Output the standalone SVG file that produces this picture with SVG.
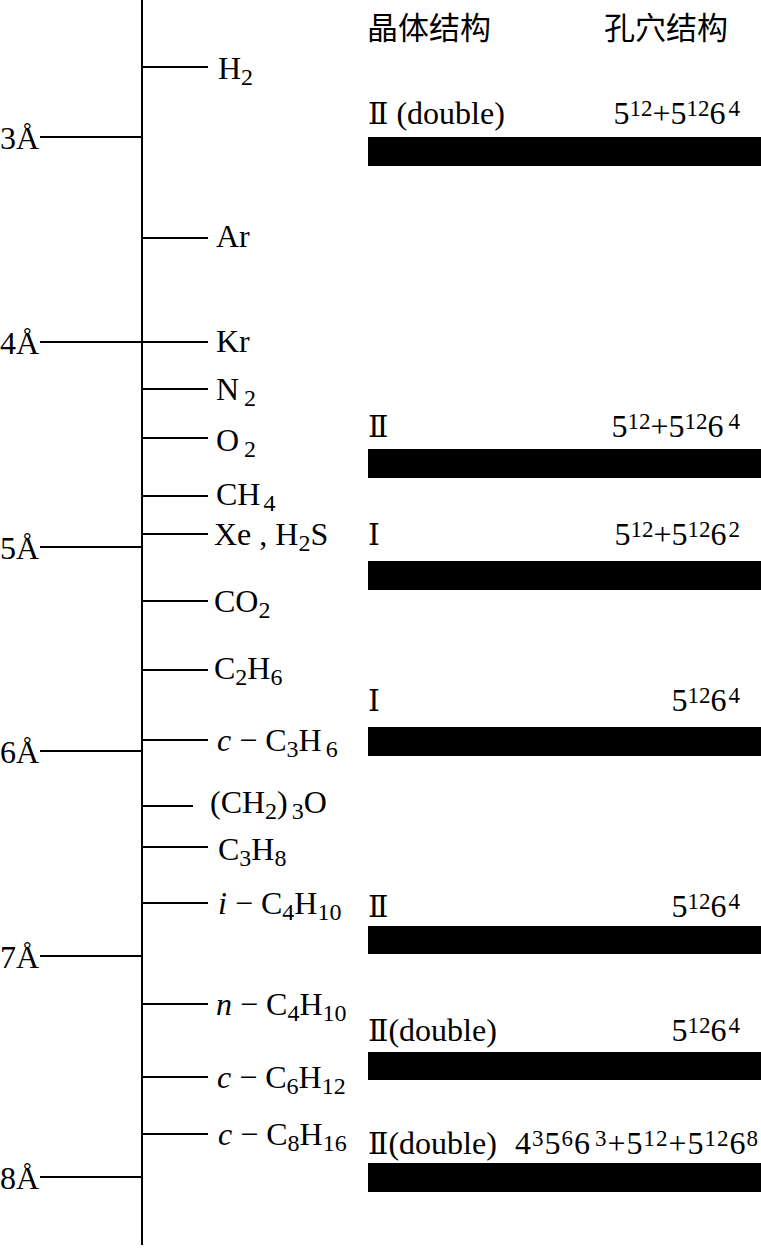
<svg xmlns="http://www.w3.org/2000/svg" width="761" height="1257" viewBox="0 0 761 1257">
<style>
.t{font-family:"Liberation Serif","Times New Roman","DejaVu Serif","Noto Sans CJK SC",serif;font-size:32px;fill:#000}
.i{font-style:italic}
.s{font-size:24px}
.p{font-size:23px}
.r{font-family:"DejaVu Serif","Liberation Serif","Noto Sans CJK SC",serif;font-size:30px}
.cjk{font-family:"Noto Sans CJK SC",sans-serif;font-size:31px;fill:#000}
.ln{stroke:#000;stroke-width:2;fill:none}
.bar{fill:#000}
</style>
<rect width="761" height="1257" fill="#fff"/>
<g id="connectors">
<line class="ln" x1="142" y1="0" x2="142" y2="1245"/>
<line class="ln" x1="40" y1="137" x2="142" y2="137"/>
<line class="ln" x1="40" y1="342" x2="208" y2="342"/>
<line class="ln" x1="40" y1="547" x2="142" y2="547"/>
<line class="ln" x1="40" y1="751" x2="142" y2="751"/>
<line class="ln" x1="40" y1="956" x2="142" y2="956"/>
<line class="ln" x1="40" y1="1177" x2="142" y2="1177"/>
<line class="ln" x1="142" y1="67" x2="208" y2="67"/>
<line class="ln" x1="142" y1="238" x2="208" y2="238"/>
<line class="ln" x1="142" y1="389" x2="208" y2="389"/>
<line class="ln" x1="142" y1="438" x2="208" y2="438"/>
<line class="ln" x1="142" y1="496" x2="208" y2="496"/>
<line class="ln" x1="142" y1="534" x2="208" y2="534"/>
<line class="ln" x1="142" y1="601" x2="208" y2="601"/>
<line class="ln" x1="142" y1="670" x2="208" y2="670"/>
<line class="ln" x1="142" y1="740" x2="208" y2="740"/>
<line class="ln" x1="142" y1="806" x2="193" y2="806"/>
<line class="ln" x1="142" y1="847" x2="208" y2="847"/>
<line class="ln" x1="142" y1="903" x2="208" y2="903"/>
<line class="ln" x1="142" y1="1004" x2="208" y2="1004"/>
<line class="ln" x1="142" y1="1077" x2="208" y2="1077"/>
<line class="ln" x1="142" y1="1134" x2="208" y2="1134"/>
</g>
<g id="scale">
<text class="t" x="0" y="149">3Å</text>
<text class="t" x="0" y="354">4Å</text>
<text class="t" x="0" y="559">5Å</text>
<text class="t" x="0" y="763">6Å</text>
<text class="t" x="0" y="968">7Å</text>
<text class="t" x="0" y="1189">8Å</text>
</g>
<g id="molecules">
<g id="m-h2"><text class="t" x="218" y="79">H<tspan class="s" dy="6">2</tspan></text></g>
<g id="m-ar"><text class="t" x="216" y="247">Ar</text></g>
<g id="m-kr"><text class="t" x="216" y="352">Kr</text></g>
<g id="m-n2"><text class="t" x="216" y="400">N<tspan class="s" dx="5" dy="6">2</tspan></text></g>
<g id="m-o2"><text class="t" x="216" y="451">O<tspan class="s" dx="5" dy="6">2</tspan></text></g>
<g id="m-ch4"><text class="t" x="216" y="505">CH<tspan class="s" dx="3" dy="6">4</tspan></text></g>
<g id="m-xe"><text class="t" x="214" y="545">Xe , H<tspan class="s" dy="6">2</tspan><tspan dy="-6">S</tspan></text></g>
<g id="m-co2"><text class="t" x="214" y="612">CO<tspan class="s" dy="6">2</tspan></text></g>
<g id="m-c2h6"><text class="t" x="214" y="679">C<tspan class="s" dy="6">2</tspan><tspan dy="-6">H</tspan><tspan class="s" dy="6">6</tspan></text></g>
<g id="m-cc3h6"><text class="t" x="217" y="751"><tspan class="i">c</tspan> − C<tspan class="s" dy="6">3</tspan><tspan dy="-6">H</tspan><tspan class="s" dx="4" dy="6">6</tspan></text></g>
<g id="m-ch23o"><text class="t" x="210" y="813">(CH<tspan class="s" dy="6">2</tspan><tspan dy="-6">)</tspan><tspan class="s" dx="4" dy="6">3</tspan><tspan dy="-6">O</tspan></text></g>
<g id="m-c3h8"><text class="t" x="218" y="860">C<tspan class="s" dy="6">3</tspan><tspan dy="-6">H</tspan><tspan class="s" dy="6">8</tspan></text></g>
<g id="m-ic4h10"><text class="t" x="218" y="914"><tspan class="i">i</tspan> − C<tspan class="s" dy="6">4</tspan><tspan dy="-6">H</tspan><tspan class="s" dy="6">10</tspan></text></g>
<g id="m-nc4h10"><text class="t" x="216" y="1015"><tspan class="i">n</tspan> − C<tspan class="s" dy="6">4</tspan><tspan dy="-6">H</tspan><tspan class="s" dy="6">10</tspan></text></g>
<g id="m-cc6h12"><text class="t" x="217" y="1088"><tspan class="i">c</tspan> − C<tspan class="s" dy="6">6</tspan><tspan dy="-6">H</tspan><tspan class="s" dy="6">12</tspan></text></g>
<g id="m-cc8h16"><text class="t" x="218" y="1145"><tspan class="i">c</tspan> − C<tspan class="s" dy="6">8</tspan><tspan dy="-6">H</tspan><tspan class="s" dy="6">16</tspan></text></g>
</g>
<g id="headers">
<text class="cjk" x="367" y="39">晶体结构</text>
<text class="cjk" x="604" y="39">孔穴结构</text>
</g>
<g id="row1">
<text class="t" x="368" y="124"><tspan class="r">Ⅱ</tspan> (double)</text>
<text class="t" x="740" y="124" text-anchor="end">5<tspan class="p" dy="-8">12</tspan><tspan dy="8">+5</tspan><tspan class="p" dy="-8">12</tspan><tspan dy="8">6</tspan><tspan class="p" dx="3" dy="-8">4</tspan></text>
<rect class="bar" x="368" y="137" width="393" height="29"/>
</g>
<g id="row2">
<text class="t" x="368" y="437"><tspan class="r">Ⅱ</tspan></text>
<text class="t" x="740" y="437" text-anchor="end">5<tspan class="p" dy="-8">12</tspan><tspan dy="8">+5</tspan><tspan class="p" dy="-8">12</tspan><tspan dy="8">6</tspan><tspan class="p" dx="5" dy="-8">4</tspan></text>
<rect class="bar" x="368" y="449" width="393" height="29"/>
</g>
<g id="row3">
<text class="t" x="368" y="545"><tspan class="r">Ⅰ</tspan></text>
<text class="t" x="740" y="545" text-anchor="end">5<tspan class="p" dy="-8">12</tspan><tspan dy="8">+5</tspan><tspan class="p" dy="-8">12</tspan><tspan dy="8">6</tspan><tspan class="p" dx="2" dy="-8">2</tspan></text>
<rect class="bar" x="368" y="561" width="393" height="29"/>
</g>
<g id="row4">
<text class="t" x="368" y="711"><tspan class="r">Ⅰ</tspan></text>
<text class="t" x="740" y="711" text-anchor="end">5<tspan class="p" dy="-8">12</tspan><tspan dy="8">6</tspan><tspan class="p" dx="2" dy="-8">4</tspan></text>
<rect class="bar" x="368" y="727" width="393" height="29"/>
</g>
<g id="row5">
<text class="t" x="368" y="917"><tspan class="r">Ⅱ</tspan></text>
<text class="t" x="740" y="917" text-anchor="end">5<tspan class="p" dy="-8">12</tspan><tspan dy="8">6</tspan><tspan class="p" dx="2" dy="-8">4</tspan></text>
<rect class="bar" x="368" y="926" width="393" height="28"/>
</g>
<g id="row6">
<text class="t" x="368" y="1041"><tspan class="r">Ⅱ</tspan>(double)</text>
<text class="t" x="740" y="1041" text-anchor="end">5<tspan class="p" dy="-8">12</tspan><tspan dy="8">6</tspan><tspan class="p" dx="2" dy="-8">4</tspan></text>
<rect class="bar" x="368" y="1052" width="393" height="28"/>
</g>
<g id="row7">
<text class="t" x="368" y="1154"><tspan class="r">Ⅱ</tspan>(double)</text>
<text class="t" x="759" y="1154" text-anchor="end" letter-spacing="1">4<tspan class="p" dy="-8">3</tspan><tspan dy="8">5</tspan><tspan class="p" dy="-8">6</tspan><tspan dy="8">6</tspan><tspan class="p" dx="4" dy="-8">3</tspan><tspan dy="8">+5</tspan><tspan class="p" dy="-8">12</tspan><tspan dy="8">+5</tspan><tspan class="p" dy="-8">12</tspan><tspan dy="8">6</tspan><tspan class="p" dy="-8">8</tspan></text>
<rect class="bar" x="368" y="1163" width="393" height="29"/>
</g>
</svg>
